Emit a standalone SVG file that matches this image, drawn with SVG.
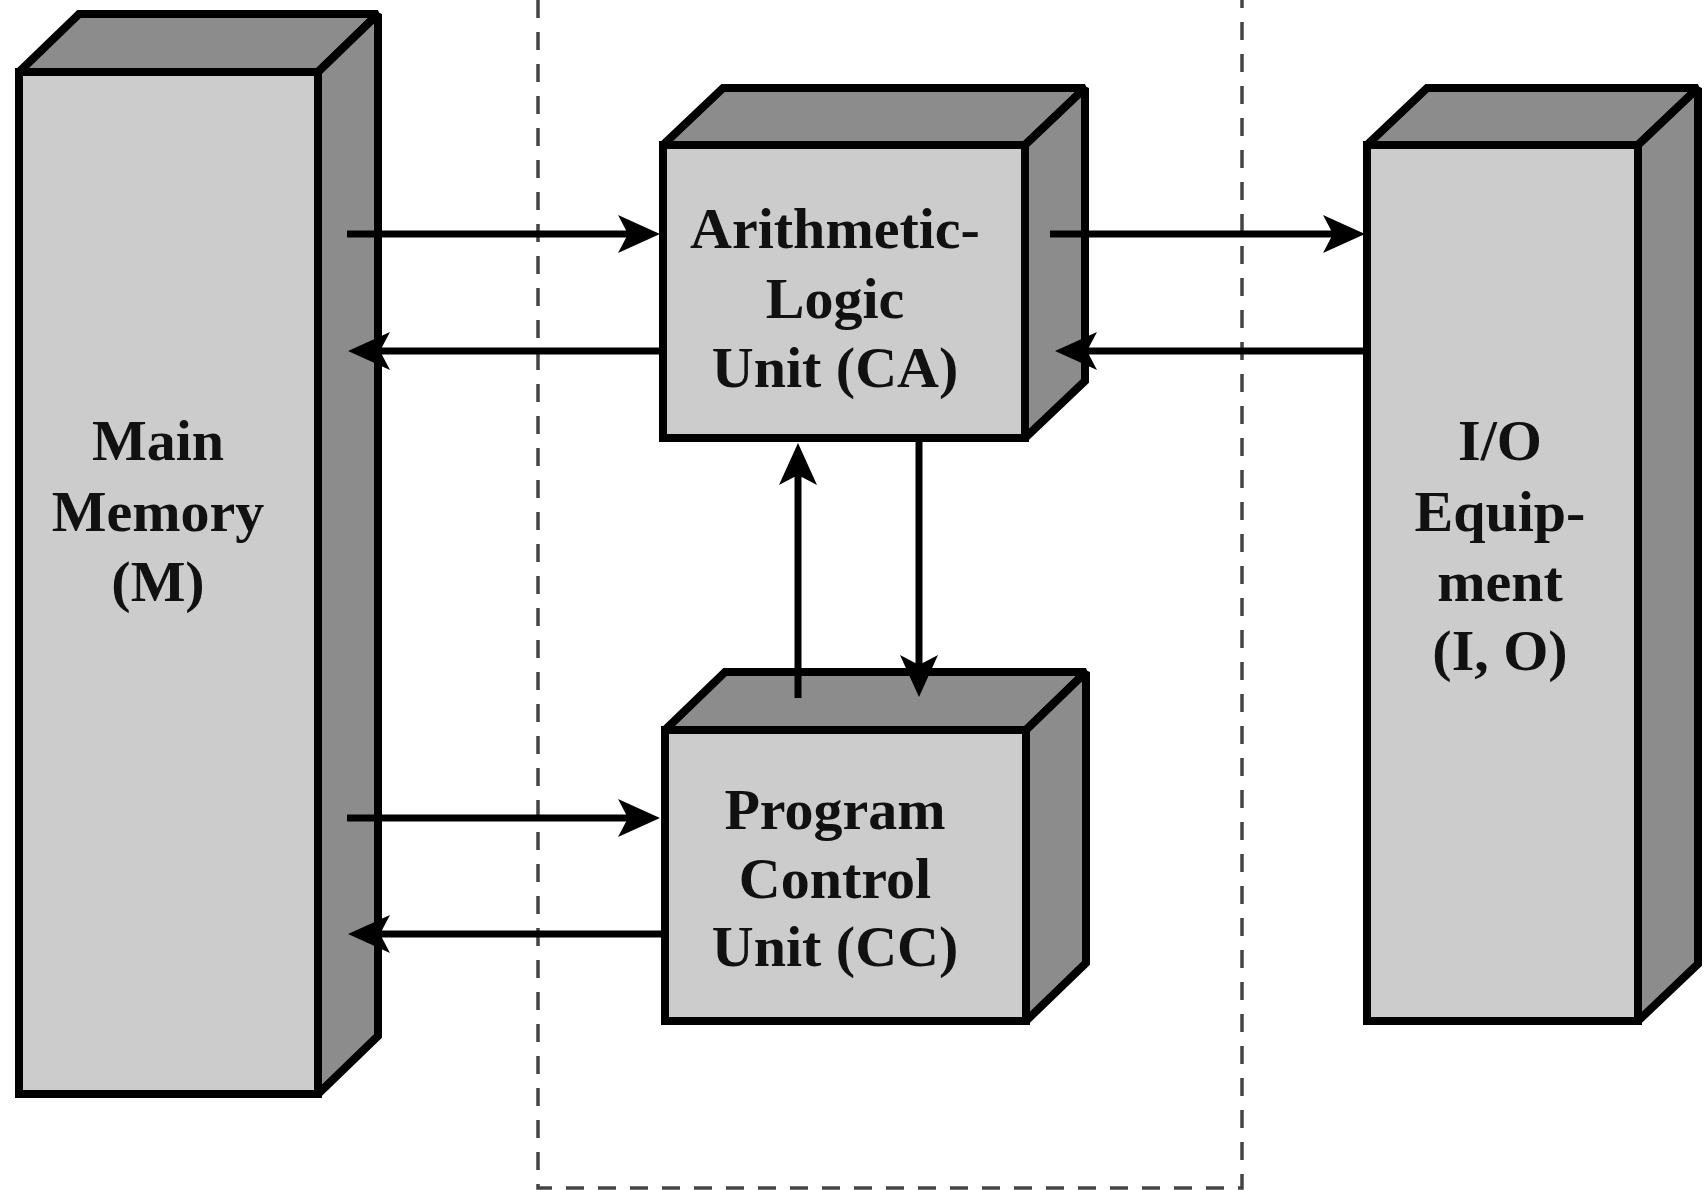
<svg xmlns="http://www.w3.org/2000/svg" width="1706" height="1190" viewBox="0 0 1706 1190">
  <style>
    .front { fill: #cccccc; stroke: #000; stroke-width: 8; stroke-linejoin: miter; stroke-miterlimit: 2; }
    .face { fill: #8c8c8c; stroke: #000; stroke-width: 8; stroke-linejoin: miter; stroke-miterlimit: 2; }
    .label { font-family: "Liberation Serif", "Times New Roman", serif; font-weight: bold; font-size: 58px; fill: #111; text-anchor: middle; }
    .link { stroke: #000; stroke-width: 7; fill: none; marker-end: url(#head); }
    .boundary { stroke: #444; stroke-width: 3.5; fill: none; stroke-dasharray: 18 14; }
  </style>
  <defs>
    <marker id="head" markerUnits="userSpaceOnUse" viewBox="-14 -21 46 42" refX="0" refY="0" markerWidth="46" markerHeight="42" orient="auto" overflow="visible">
      <path d="M30,0 L-12,-19 L-2,0 L-12,19 Z" fill="#000"/>
    </marker>
  </defs>

  <rect width="1706" height="1190" fill="#fff"/>

  <!-- CPU boundary (dashed) -->
  <g id="cpu-boundary">
    <path class="boundary" d="M538,0 L538,1188 L1242,1188 L1242,0"/>
  </g>

  <!-- Main Memory -->
  <g id="main-memory">
    <polygon class="face" points="19,72 79,14 378,14 318,72"/>
    <polygon class="face" points="318,72 378,14 378,1036 318,1094"/>
    <rect class="front" x="19" y="72" width="299" height="1022"/>
    <text class="label" x="158" y="460">Main</text>
    <text class="label" x="158" y="531">Memory</text>
    <text class="label" x="158" y="601">(M)</text>
  </g>

  <!-- Arithmetic-Logic Unit -->
  <g id="alu">
    <polygon class="face" points="663,145 723,88 1085,88 1025,145"/>
    <polygon class="face" points="1025,145 1085,88 1085,381 1025,438"/>
    <rect class="front" x="663" y="145" width="362" height="293"/>
    <text class="label" x="835" y="248">Arithmetic-</text>
    <text class="label" x="835" y="318">Logic</text>
    <text class="label" x="835" y="387">Unit (CA)</text>
  </g>

  <!-- Program Control Unit -->
  <g id="pcu">
    <polygon class="face" points="665,730 725,672 1086,672 1026,730"/>
    <polygon class="face" points="1026,730 1086,672 1086,963 1026,1021"/>
    <rect class="front" x="665" y="730" width="361" height="291"/>
    <text class="label" x="835" y="829">Program</text>
    <text class="label" x="835" y="898">Control</text>
    <text class="label" x="835" y="966">Unit (CC)</text>
  </g>

  <!-- I/O Equipment -->
  <g id="io">
    <polygon class="face" points="1367,145 1427,88 1698,88 1638,145"/>
    <polygon class="face" points="1638,145 1698,88 1698,964 1638,1021"/>
    <rect class="front" x="1367" y="145" width="271" height="876"/>
    <text class="label" x="1500" y="460">I/O</text>
    <text class="label" x="1500" y="531">Equip-</text>
    <text class="label" x="1500" y="601">ment</text>
    <text class="label" x="1500" y="670">(I, O)</text>
  </g>

  <!-- Data and control paths -->
  <g id="connectors">
    <line class="link" x1="347" y1="234" x2="630" y2="234"/>
    <line class="link" x1="662" y1="351" x2="378" y2="351"/>
    <line class="link" x1="1050" y1="234" x2="1335" y2="234"/>
    <line class="link" x1="1367" y1="351" x2="1085" y2="351"/>
    <line class="link" x1="798" y1="698" x2="798" y2="473"/>
    <line class="link" x1="919" y1="442" x2="919" y2="667"/>
    <line class="link" x1="347" y1="818" x2="630" y2="818"/>
    <line class="link" x1="662" y1="934" x2="378" y2="934"/>
  </g>
</svg>
